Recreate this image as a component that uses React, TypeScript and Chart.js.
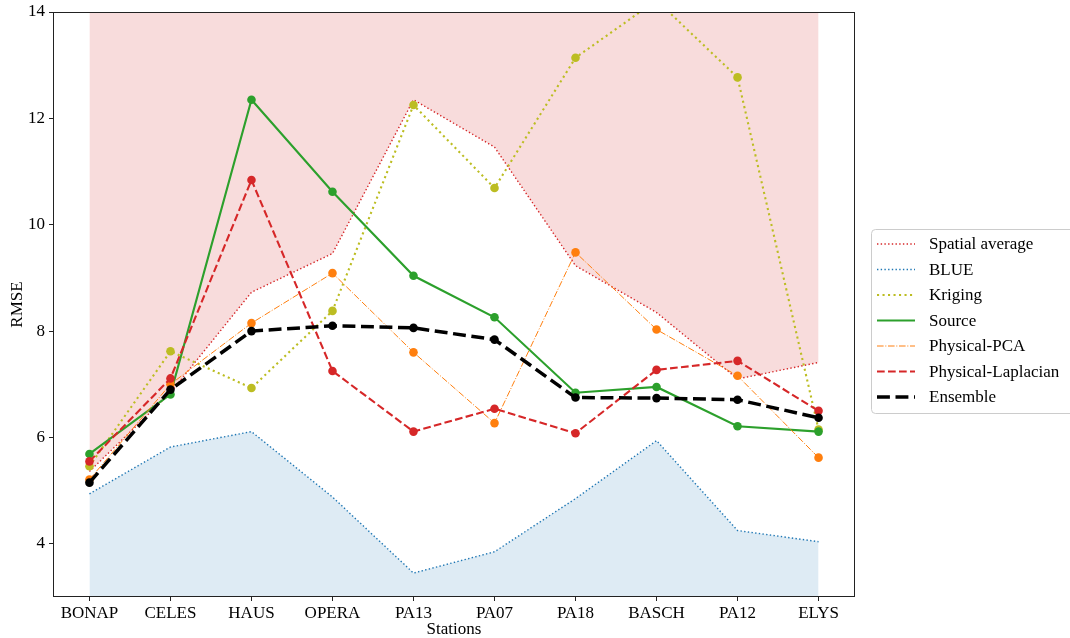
import React, { useEffect, useRef } from 'react';
import { Chart, registerables } from 'chart.js';

Chart.register(...registerables);

// ---- data ----
const stations = ['BONAP', 'CELES', 'HAUS', 'OPERA', 'PA13', 'PA07', 'PA18', 'BASCH', 'PA12', 'ELYS'];
const spatialAverage = [5.36, 6.84, 8.73, 9.46, 12.35, 11.46, 9.23, 8.35, 7.1, 7.41];
const blueValues = [4.94, 5.82, 6.11, 4.88, 3.45, 3.85, 4.85, 5.94, 4.25, 4.04];
const kriging = [5.46, 7.62, 6.93, 8.38, 12.25, 10.69, 13.14, 14.22, 12.77, 6.15];
const source = [5.69, 6.81, 12.35, 10.62, 9.04, 8.26, 6.84, 6.95, 6.21, 6.11];
const physicalPCA = [5.21, 7.0, 8.15, 9.09, 7.6, 6.27, 9.48, 8.03, 7.16, 5.62];
const physicalLaplacian = [5.55, 7.11, 10.84, 7.25, 6.11, 6.54, 6.08, 7.27, 7.44, 6.5];
const ensemble = [5.15, 6.9, 8.0, 8.1, 8.06, 7.84, 6.75, 6.74, 6.71, 6.37];
const yTicks = [4, 6, 8, 10, 12, 14];
const seriesNames = ['Spatial average', 'BLUE', 'Kriging', 'Source', 'Physical-PCA', 'Physical-Laplacian', 'Ensemble'];
const seriesValues = [spatialAverage, blueValues, kriging, source, physicalPCA, physicalLaplacian, ensemble];

// ---- styles ----
const FONT = "'Liberation Serif', 'Times New Roman', serif";
const styles = [
  { color: '#d62728', width: 1.4, dash: [1.4, 2.3], points: false, fill: 'end', fillColor: 'rgba(214,39,40,0.16)' },
  { color: '#1f77b4', width: 1.4, dash: [1.4, 2.3], points: false, fill: 'start', fillColor: 'rgba(31,119,180,0.15)' },
  { color: '#bcbd22', width: 2.1, dash: [2.1, 3.4], points: true },
  { color: '#2ca02c', width: 2.1, dash: [], points: true },
  { color: '#ff7f0e', width: 1.0, dash: [6.6, 1.7, 1, 1.7], points: true },
  { color: '#d62728', width: 2.1, dash: [7.7, 3.3], points: true },
  { color: '#000000', width: 3.5, dash: [12.9, 5.6], points: true },
];

const legendPlugin = {
  id: 'customLegend',
  afterDraw(chart: any) {
    const ctx = chart.ctx as CanvasRenderingContext2D;
    ctx.save();
    const bx = 871.5, by = 229.5, bw = 205, bh = 184, r = 4;
    ctx.beginPath();
    ctx.moveTo(bx + r, by);
    ctx.lineTo(bx + bw - r, by);
    ctx.arcTo(bx + bw, by, bx + bw, by + r, r);
    ctx.lineTo(bx + bw, by + bh - r);
    ctx.arcTo(bx + bw, by + bh, bx + bw - r, by + bh, r);
    ctx.lineTo(bx + r, by + bh);
    ctx.arcTo(bx, by + bh, bx, by + bh - r, r);
    ctx.lineTo(bx, by + r);
    ctx.arcTo(bx, by, bx + r, by, r);
    ctx.closePath();
    ctx.fillStyle = 'rgba(255,255,255,0.8)';
    ctx.fill();
    ctx.strokeStyle = '#cccccc';
    ctx.lineWidth = 1;
    ctx.setLineDash([]);
    ctx.stroke();
    seriesNames.forEach((name, i) => {
      const st = styles[i];
      const y = 244 + i * 25.5;
      ctx.beginPath();
      ctx.setLineDash(st.dash);
      ctx.lineWidth = st.width;
      ctx.strokeStyle = st.color;
      ctx.lineCap = 'butt';
      ctx.moveTo(877, y);
      ctx.lineTo(915, y);
      ctx.stroke();
      ctx.setLineDash([]);
      ctx.fillStyle = '#000';
      ctx.font = `17px ${FONT}`;
      ctx.textBaseline = 'middle';
      ctx.textAlign = 'left';
      ctx.fillText(name, 929, y + 1);
    });
    ctx.restore();
  },
};

const framePlugin = {
  id: 'frame',
  afterDatasetsDraw(chart: any) {
    const { ctx, chartArea } = chart;
    ctx.save();
    ctx.strokeStyle = '#222';
    ctx.lineWidth = 1;
    ctx.setLineDash([]);
    ctx.strokeRect(
      Math.round(chartArea.left) + 0.5,
      Math.round(chartArea.top) + 0.5,
      Math.round(chartArea.right - chartArea.left) - 1,
      Math.round(chartArea.bottom - chartArea.top) - 1
    );
    ctx.restore();
  },
};

export default function App() {
  const ref = useRef<HTMLCanvasElement | null>(null);
  useEffect(() => {
    if (!ref.current) return;
    const datasets = seriesNames.map((name, i) => {
      const st: any = styles[i];
      return {
        label: name,
        data: seriesValues[i].map((v, j) => ({ x: j, y: v })),
        borderColor: st.color,
        backgroundColor: st.fillColor || st.color,
        borderWidth: st.width,
        borderDash: st.dash,
        borderCapStyle: 'butt',
        fill: st.fill || false,
        tension: 0,
        pointRadius: st.points ? 4.3 : 0,
        pointHoverRadius: st.points ? 4.3 : 0,
        pointBorderWidth: 0,
        pointBackgroundColor: st.color,
        order: seriesNames.length - 1 - i,
      };
    });
    const tickFont = { family: FONT, size: 17 };
    const chart = new Chart(ref.current, {
      type: 'line',
      data: { datasets } as any,
      plugins: [framePlugin, legendPlugin],
      options: {
        animation: false,
        responsive: false,
        maintainAspectRatio: false,
        layout: { padding: { top: 12, right: 215, left: 0, bottom: 0 } },
        plugins: { legend: { display: false }, tooltip: { enabled: false } },
        scales: {
          x: {
            type: 'linear',
            min: -0.45,
            max: 9.45,
            afterBuildTicks: (s: any) => {
              s.ticks = stations.map((_, i) => ({ value: i }));
            },
            afterFit: (s: any) => {
              s.height = 41;
              s.paddingLeft = 0;
              s.paddingRight = 0;
            },
            ticks: {
              callback: (v: any) => stations[Math.round(v)] ?? '',
              font: tickFont,
              color: '#000',
              padding: 2,
              autoSkip: false,
              maxRotation: 0,
            },
            grid: { drawOnChartArea: false, drawTicks: true, tickLength: 4, color: '#222' },
            border: { display: false },
            title: { display: true, text: 'Stations', font: tickFont, color: '#000', padding: { top: 0, bottom: -1.5 } },
          },
          y: {
            type: 'linear',
            min: 3,
            max: 14,
            afterBuildTicks: (s: any) => {
              s.ticks = yTicks.map((v) => ({ value: v }));
            },
            afterFit: (s: any) => {
              s.width = 53;
              s.paddingTop = 0;
              s.paddingBottom = 0;
            },
            ticks: { font: tickFont, color: '#000', padding: 4 },
            grid: { drawOnChartArea: false, drawTicks: true, tickLength: 4, color: '#222' },
            border: { display: false },
            title: { display: true, text: 'RMSE', font: tickFont, color: '#000', padding: { top: 7, bottom: 0 } },
          },
        },
      } as any,
    });
    return () => chart.destroy();
  }, []);
  return (
    <div style={{ position: 'fixed', left: 0, top: 0, width: 1070, height: 638, background: '#fff' }}>
      <canvas ref={ref} width={1070} height={638} />
    </div>
  );
}
